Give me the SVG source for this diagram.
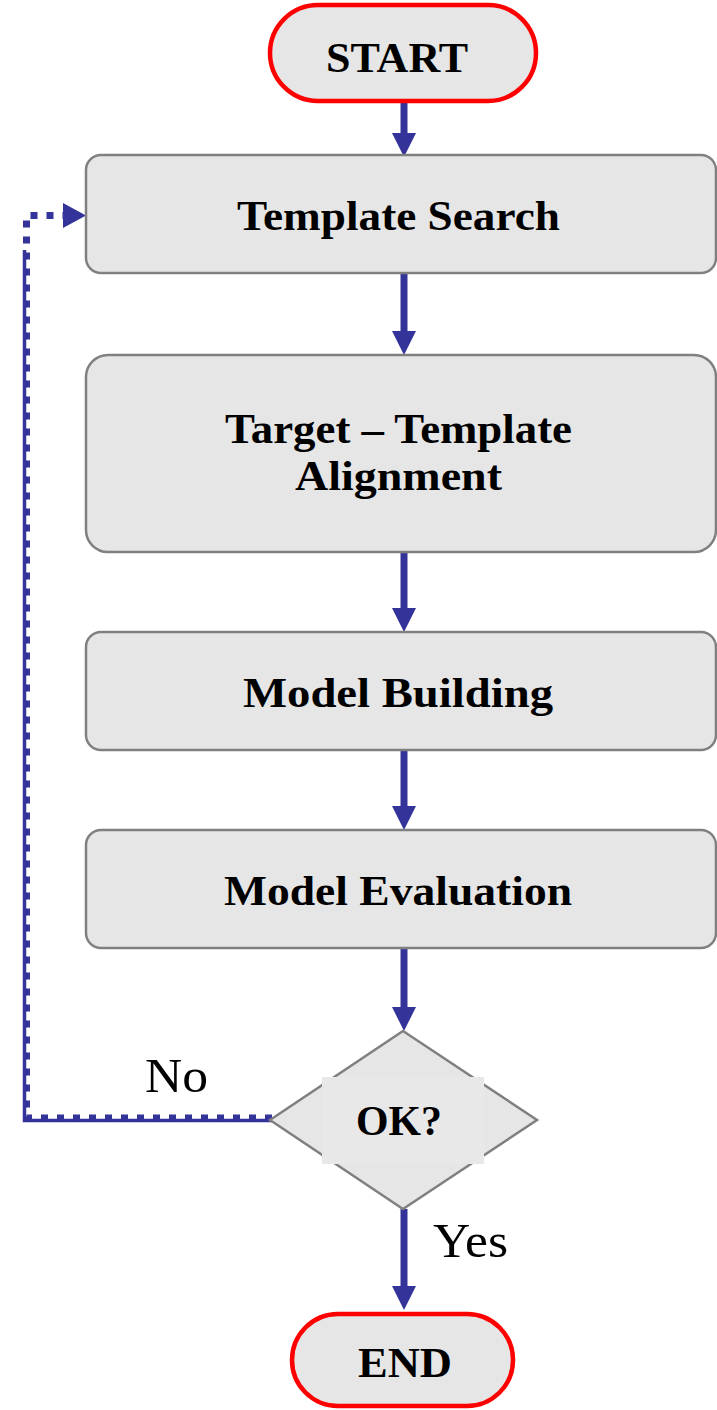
<svg xmlns="http://www.w3.org/2000/svg" width="717" height="1410" viewBox="0 0 717 1410">
<defs>
<style>
.box{fill:#e6e6e6;stroke:#808080;stroke-width:2.5}
.term{fill:#e6e6e6;stroke:#ff0000;stroke-width:4.5}
.lbl{font-family:"Liberation Serif","Times New Roman",serif;font-weight:bold;font-size:43px;fill:#000;text-anchor:middle}
.edge{font-family:"Liberation Serif","Times New Roman",serif;font-size:48px;fill:#000}
.flow{stroke:#333399;stroke-width:7;fill:none}
</style>
<marker id="ah" viewBox="0 0 24 24" refX="0" refY="12" markerWidth="24" markerHeight="24" markerUnits="userSpaceOnUse" orient="auto">
<path d="M0,0 L24,12 L0,24 Z" fill="#333399"/>
</marker>
</defs>
<rect width="717" height="1410" fill="#fff"/>
<g id="connectors">
<line class="flow" x1="404" y1="97" x2="404" y2="133" marker-end="url(#ah)"/>
<line class="flow" x1="404" y1="273" x2="404" y2="331" marker-end="url(#ah)"/>
<line class="flow" x1="404" y1="552" x2="404" y2="608" marker-end="url(#ah)"/>
<line class="flow" x1="404" y1="750" x2="404" y2="806" marker-end="url(#ah)"/>
<line class="flow" x1="404" y1="948" x2="404" y2="1007" marker-end="url(#ah)"/>
<line class="flow" x1="404" y1="1209" x2="404" y2="1286" marker-end="url(#ah)"/>
<path d="M272,1120.5 H24.5 V250" stroke="#333399" stroke-width="3.5" fill="none"/>
<path d="M272,1118 H26.5 V215.5 H63" stroke="#333399" stroke-width="7" fill="none" stroke-dasharray="7 9"/>
<path d="M63,203 L86,215.5 L63,228 Z" fill="#333399"/>
<text class="edge" x="145" y="1092" textLength="63" lengthAdjust="spacingAndGlyphs">No</text>
<text class="edge" x="433" y="1257" textLength="75" lengthAdjust="spacingAndGlyphs">Yes</text>
</g>
<g id="start">
<rect class="term" x="270" y="5" width="266" height="96" rx="48"/>
<text class="lbl" x="397" y="72" textLength="142" lengthAdjust="spacingAndGlyphs">START</text>
</g>
<g id="template-search">
<rect class="box" x="86" y="155" width="630" height="118" rx="15"/>
<text class="lbl" x="398.5" y="230" textLength="323" lengthAdjust="spacingAndGlyphs">Template Search</text>
</g>
<g id="alignment">
<rect class="box" x="86" y="355" width="630" height="197" rx="22"/>
<text class="lbl" x="398.5" y="443" textLength="347" lengthAdjust="spacingAndGlyphs">Target – Template</text>
<text class="lbl" x="398.5" y="490" textLength="207" lengthAdjust="spacingAndGlyphs">Alignment</text>
</g>
<g id="model-building">
<rect class="box" x="86" y="632" width="630" height="118" rx="15"/>
<text class="lbl" x="398" y="707" textLength="310" lengthAdjust="spacingAndGlyphs">Model Building</text>
</g>
<g id="model-evaluation">
<rect class="box" x="86" y="830" width="630" height="118" rx="15"/>
<text class="lbl" x="398" y="905" textLength="348" lengthAdjust="spacingAndGlyphs">Model Evaluation</text>
</g>
<g id="ok">
<polygon class="box" points="403,1031 537,1120 403,1209 270,1120"/>
<rect x="322" y="1077" width="162" height="87" fill="#e8e8e8"/>
<text class="lbl" x="399" y="1135" textLength="86" lengthAdjust="spacingAndGlyphs">OK?</text>
</g>
<g id="end">
<rect class="term" x="292" y="1314" width="221" height="92" rx="46"/>
<text class="lbl" x="405" y="1377" textLength="94" lengthAdjust="spacingAndGlyphs">END</text>
</g>
</svg>
